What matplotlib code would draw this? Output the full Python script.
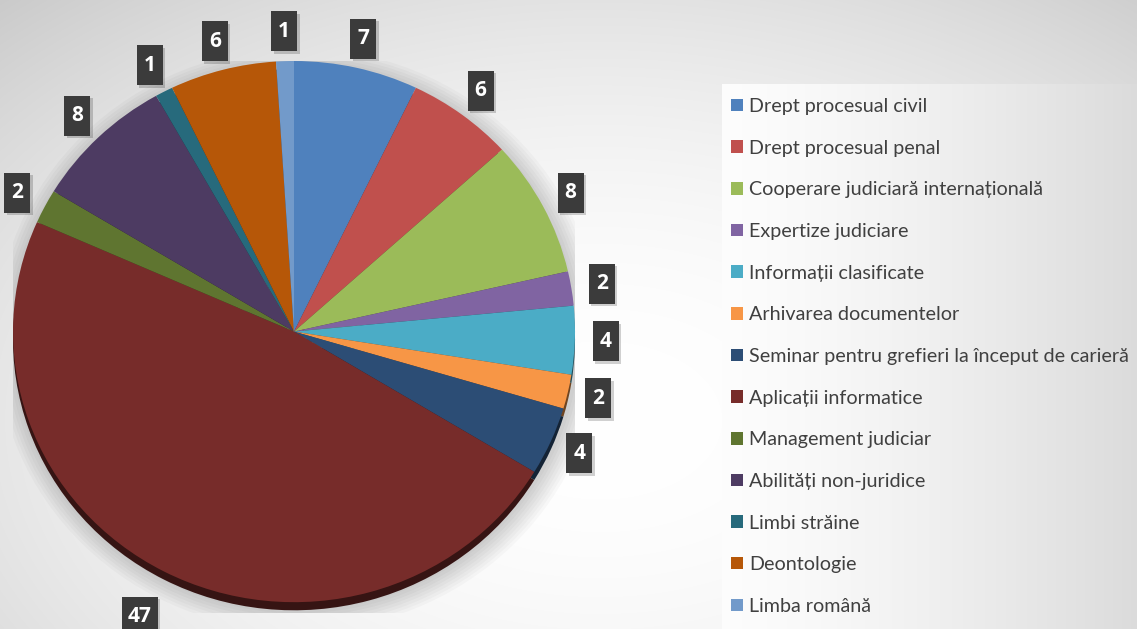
import numpy as np
import matplotlib.pyplot as plt
from matplotlib.patches import Ellipse
from matplotlib.colors import to_rgb
from matplotlib.transforms import ScaledTranslation

# date din grafic
categories = ['Drept procesual civil', 'Drept procesual penal',
              'Cooperare judiciară internațională', 'Expertize judiciare',
              'Informații clasificate', 'Arhivarea documentelor',
              'Seminar pentru grefieri la început de carieră',
              'Aplicații informatice', 'Management judiciar',
              'Abilități non-juridice', 'Limbi străine', 'Deontologie',
              'Limba română']
values = [7, 6, 8, 2, 4, 2, 4, 47, 2, 8, 1, 6, 1]
colors = ['#4F81BD', '#C0504D', '#9BBB59', '#8064A2', '#4BACC6', '#F79646',
          '#2C4D75', '#772C2A', '#5F7530', '#4D3B62', '#276A7C', '#B65708',
          '#729ACA']

W, H = 1137, 629
fig = plt.figure(figsize=(W / 100, H / 100), dpi=100)

# fundal cu gradient
yy, xx = np.mgrid[0:H, 0:W]
d2 = ((xx - 600) / 800.0) ** 2 + ((yy - 420) / 520.0) ** 2
g = 1.0 - 0.17 * np.clip(d2, 0, 1.25)
panel = (xx >= 722) & (yy >= 84)
g[panel] = 0.99 - 0.13 * ((xx[panel] - 722) / 415.0) ** 1.4
g = np.clip(g, 0, 1)
bg = fig.add_axes([0, 0, 1, 1], zorder=-10)
bg.imshow(np.dstack([g, g, g]), aspect='auto', interpolation='bilinear')
bg.axis('off')

# axa pentru pie (usor eliptica)
top, bottom = 61, 613
ax = fig.add_axes([13 / W, (H - bottom) / H, 562 / W, (bottom - top) / H])
ax.set_facecolor('none')

# umbra difuza
for k in range(8):
    e = Ellipse((0.015, -0.03), 2 + 0.022 * k, 2 + 0.022 * k, facecolor='black',
                alpha=0.022, linewidth=0, zorder=0)
    ax.add_patch(e)

# marginea 3D
dark = [tuple(c * 0.45 for c in to_rgb(col)) for col in colors]
ax.pie(values, colors=dark, startangle=90, counterclock=False,
       center=(0, -0.03), wedgeprops=dict(linewidth=0))

wedges, texts = ax.pie(values, colors=colors, startangle=90, counterclock=False,
                       labels=[str(v) for v in values], labeldistance=1.11,
                       wedgeprops=dict(linewidth=0))

ax.set_aspect('auto')
ax.set_xlim(-1, 1)
ax.set_ylim(-1.04, 1)

# etichete in casute inchise
shift = ax.transData + ScaledTranslation(2.5 / 100, -2.5 / 100, fig.dpi_scale_trans)
for t, v in zip(texts, values):
    x, y = t.get_position()
    half = 13
    if v == max(values):
        x, y = x * 1.07, y * 1.07
        half = 18
    box = [(-half, -20), (half, -20), (half, 20), (-half, 20), (-half, -20)]
    ax.plot([x], [y], marker=box, markersize=29.5, color='#000000', alpha=0.18,
            markeredgewidth=0, linestyle='none', clip_on=False, zorder=3,
            transform=shift)
    ax.plot([x], [y], marker=box, markersize=28.8, color='#3b3b3b',
            markeredgewidth=0, linestyle='none', clip_on=False, zorder=4)
    t.set_position((x, y))
    t.set_ha('center')
    t.set_va('center')
    t.set_color('white')
    t.set_fontsize(15)
    t.set_fontweight('bold')
    t.set_family(['Open Sans', 'DejaVu Sans'])
    t.set_zorder(5)

leg = fig.legend(wedges, categories, loc='upper left',
                 bbox_to_anchor=(731 / W, 1 - 98 / H), frameon=False,
                 prop=dict(family=['Lato', 'DejaVu Sans'], size=14.2),
                 labelcolor='#404040', handlelength=0.6, handleheight=0.6,
                 handletextpad=0.33, labelspacing=1.25, borderpad=0,
                 borderaxespad=0)

fig.savefig('out.png', dpi=100)
